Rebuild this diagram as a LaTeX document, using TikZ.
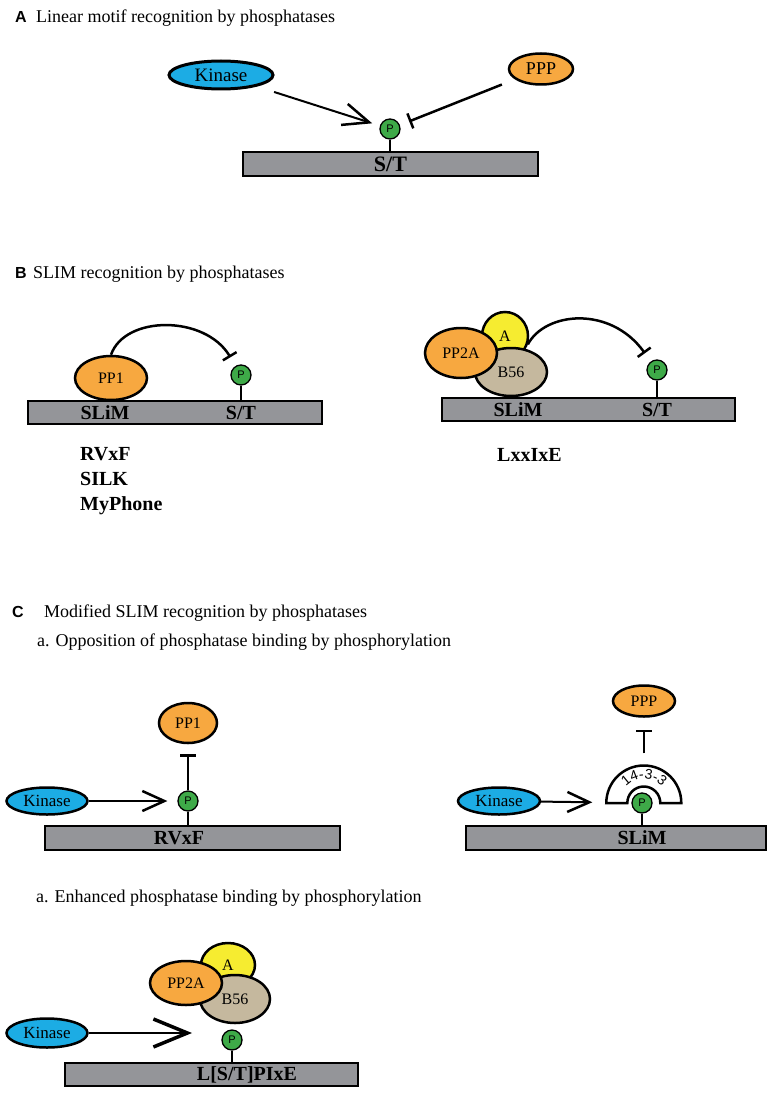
\documentclass[tikz,border=0pt]{standalone}
\usepackage{fontspec}
\setmainfont{Liberation Serif}
\setsansfont{Liberation Sans}
\usepackage{tikz}
\usetikzlibrary{shapes.geometric, arrows.meta, decorations.text}

\definecolor{kinblue}{RGB}{28,172,228}
\definecolor{pporange}{RGB}{247,168,64}
\definecolor{ayellow}{RGB}{246,236,48}
\definecolor{btan}{RGB}{197,184,158}
\definecolor{pgreen}{RGB}{62,170,72}
\definecolor{motifgray}{RGB}{148,149,153}

\newcommand{\fsz}[1]{\fontsize{#1}{#1}\selectfont}

\tikzstyle{kinase} = [ellipse, draw=black, line width=2.5pt, fill=kinblue, inner sep=0pt, minimum width=81pt, minimum height=27pt, font=\fsz{17}]
\tikzstyle{ppase} = [ellipse, draw=black, line width=2.5pt, fill=pporange, inner sep=0pt, font=\fsz{16}]
\tikzstyle{subA} = [ppase, fill=ayellow]
\tikzstyle{subB} = [ppase, fill=btan]
\tikzstyle{phos} = [circle, draw=black, line width=1.3pt, fill=pgreen, inner sep=0pt, minimum size=20pt, font=\sffamily\fsz{11}]
\tikzstyle{motif} = [rectangle, draw=black, line width=1.3pt, fill=motifgray, inner sep=0pt, minimum height=23pt, font=\bfseries\fsz{20}]
\tikzstyle{lbl} = [inner sep=0pt, font=\bfseries\fsz{20}]
\tikzstyle{stem} = [line width=2pt]
\tikzstyle{act} = [line width=2pt, -{Straight Barb[length=22pt,width=20pt,line width=2.5pt]}]
\tikzstyle{inh} = [line width=2.5pt, -{Bar[width=16pt,line width=2.5pt]}]
\tikzstyle{head} = [anchor=base west, inner sep=0pt, font=\fsz{18}]
\tikzstyle{tag} = [anchor=base west, inner sep=0pt, font=\sffamily\bfseries\fsz{16}]

\begin{document}
\begin{tikzpicture}[x=1pt, y=-1pt]
	\fill [white] (0,0) rectangle (767,1094);
	\useasboundingbox (0,0) rectangle (767,1094);

	% A
	\node (tagA) [tag] at (15,23) {A};
	\node (headA) [head] at (36,23) {Linear motif recognition by phosphatases};
	\node (kinA) [kinase, minimum width=104pt, minimum height=28pt, line width=3pt, font=\fsz{19}] at (221,75) {Kinase};
	\node (pppA) [ppase, minimum width=64pt, minimum height=31pt, font=\fsz{18}] at (541,69) {PPP};
	\node (barA) [motif, minimum width=295pt, minimum height=24pt, font=\bfseries\fsz{22}] at (390.5,164) {S/T};
	\node (pA) [phos] at (390,129) {P};
	\draw [stem] (pA) -- (pA |- barA.north);
	\draw [act, shorten <=18pt, shorten >=8pt, -{Straight Barb[length=26pt,width=22pt,line width=2.5pt]}] (kinA) -- (pA);
	\draw [inh, shorten <=14pt, shorten >=10pt] (pppA) -- (pA);

	% B
	\node (tagB) [tag] at (15,278) {B};
	\node (headB) [head] at (33,278) {SLIM recognition by phosphatases};
	\node (barB1) [motif, minimum width=294pt] at (175,412.5) {};
	\node (pp1B) [ppase, minimum width=72pt, minimum height=44pt] at (111,378) {PP1};
	\node (pB1) [phos] at (241,375) {P};
	\draw [stem] (pB1) -- (pB1 |- barB1.north);
	\node (slimB1) [lbl] at (105,413) {SLiM};
	\node (stB1) [lbl] at (pB1 |- barB1) {S/T};
	\draw [inh, shorten >=10pt] (pp1B.north) .. controls (125,315) and (205,315) .. (pB1);
	\node (rvxf) [lbl, anchor=base west] at (80,460) {RVxF};
	\node (silk) [lbl, anchor=base west] at (80,485) {SILK};
	\node (myph) [lbl, anchor=base west] at (80,510) {MyPhone};

	\node (barB2) [motif, minimum width=293pt] at (588.5,409.5) {};
	\node (aB) [subA, minimum width=46pt, minimum height=48pt] at (505,336) {A};
	\node (b56B) [subB, minimum width=72pt, minimum height=48pt] at (511,372) {B56};
	\node (pp2aB) [ppase, minimum width=72pt, minimum height=50pt] at (461,353) {PP2A};
	\node (pB2) [phos] at (657,370) {P};
	\draw [stem] (pB2) -- (pB2 |- barB2.north);
	\node (slimB2) [lbl] at (518,410) {SLiM};
	\node (stB2) [lbl] at (pB2 |- barB2) {S/T};
	\draw [inh, shorten >=10pt] (aB.-20) .. controls (545,312) and (610,305) .. (pB2);
	\node (lxx) [lbl, anchor=base west] at (497,461) {LxxIxE};

	% C
	\node (tagC) [tag] at (12,617) {C};
	\node (headC) [head] at (44,617) {Modified SLIM recognition by phosphatases};
	\node (subC1) [head] at (37,646) {a. Opposition of phosphatase binding by phosphorylation};

	\node (barC1) [motif, minimum width=295pt, minimum height=24pt] at (192.5,838) {};
	\node (pC1) [phos] at (188,801) {P};
	\node (pp1C) [ppase, minimum width=58pt, minimum height=40pt] at (188,723) {PP1};
	\node (kinC1) [kinase] at (47,801) {Kinase};
	\draw [stem] (pC1) -- (pC1 |- barC1.north);
	\node (rvxfC) [lbl] at (179,838) {RVxF};
	\draw [act, shorten >=10pt] (kinC1) -- (pC1);
	\draw [inh, shorten >=10pt] (pC1) -- (pp1C);

	\node (barC2) [motif, minimum width=300pt, minimum height=24pt] at (616,838) {};
	\node (yw) [circle, minimum size=75pt, inner sep=0pt] at (644,803) {};
	\draw [fill=white, line width=2.5pt] (yw.west) arc[start angle=180, end angle=360, radius=37.5] -- ++(-21,0) arc[start angle=360, end angle=180, radius=16.5] -- cycle;
	\path [decorate, decoration={text along path, text={|\sffamily\fsz{14}|14-3-3}, text align={center}}] (yw) ++(-24,0) arc[start angle=180, end angle=360, radius=24];
	\node (pC2) [phos] at (642,803) {P};
	\node (ppC) [ppase, minimum width=62pt, minimum height=31pt] at (644,701) {PPP};
	\node (kinC2) [kinase, minimum width=82pt] at (499,801) {Kinase};
	\draw [stem] (pC2) -- (pC2 |- barC2.north);
	\node (slimC2) [lbl] at (pC2 |- barC2) {SLiM};
	\draw [act, shorten >=14pt] (kinC2) -- (yw);
	\draw [inh, shorten <=12pt, shorten >=12pt] (yw.north) -- (ppC);

	\node (subC2) [head] at (36,902) {a. Enhanced phosphatase binding by phosphorylation};
	\node (barD) [motif, minimum width=293pt, minimum height=23pt] at (211.5,1074.5) {};
	\node (aD) [subA, minimum width=54pt, minimum height=44pt] at (228,965) {A};
	\node (b56D) [subB, minimum width=70pt, minimum height=48pt] at (235,999) {B56};
	\node (pp2aD) [ppase, minimum width=72pt, minimum height=44pt] at (186,983) {PP2A};
	\node (pD) [phos] at (232,1040) {P};
	\node (kinD) [kinase, minimum height=29pt] at (47,1033) {Kinase};
	\draw [stem] (pD) -- (pD |- barD.north);
	\node (lsD) [lbl] at (247,1075) {L[S/T]PIxE};
	\draw [act, shorten >=40pt, -{Straight Barb[length=34pt,width=28pt,line width=3.5pt]}] (kinD) -- (kinD -| pD);
\end{tikzpicture}
\end{document}
